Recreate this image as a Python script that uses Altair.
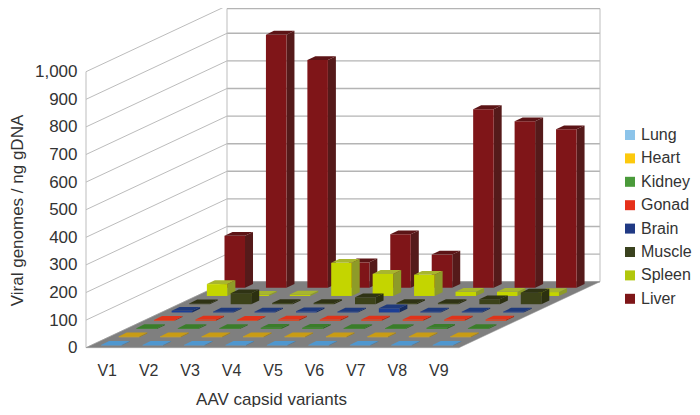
import altair as alt
import pandas as pd

variants = ["V1", "V2", "V3", "V4", "V5", "V6", "V7", "V8", "V9"]
organs = ["Lung", "Heart", "Kidney", "Gonad", "Brain", "Muscle", "Spleen", "Liver"]

lung = [2, 2, 2, 2, 2, 2, 2, 2, 2]
heart = [3, 3, 3, 3, 3, 3, 3, 3, 3]
kidney = [3, 3, 3, 4, 4, 3, 3, 4, 3]
gonad = [3, 4, 3, 4, 4, 4, 4, 4, 4]
brain = [6, 3, 3, 4, 3, 15, 3, 3, 3]
muscle = [3, 40, 4, 4, 25, 4, 4, 18, 42]
spleen = [43, 4, 5, 120, 80, 77, 15, 15, 14]
liver = [188, 917, 825, 92, 194, 120, 647, 603, 574]
series = [lung, heart, kidney, gonad, brain, muscle, spleen, liver]

ticks = [0, 100, 200, 300, 400, 500, 600, 700, 800, 900, 1000]

legend_cols = ["#8cc4ea", "#fcc90e", "#4a9a3a", "#e6301a", "#203a84", "#3a421e", "#b2c70c", "#7e1618"]
front_cols = ["#5aa0d8", "#e8b010", "#3f8a30", "#f03c10", "#1c3e96", "#3c4219", "#c4d500", "#7f1518"]
side_cols = ["#3f7aa8", "#a88310", "#2f6a22", "#b02a10", "#162c60", "#2c3010", "#8e9b28", "#551a1a"]
top_cols = ["#4f97cf", "#c99c14", "#3a7d2a", "#e0341a", "#1f3a7c", "#2f3314", "#a8b62e", "#5c1416"]

# oblique projection, in data units
PX_X = 373 / 9        # px per category
PX_Y = 0.276          # px per value unit
ROW_X = 141 / 8 / PX_X   # x shift of one organ row
ROW_Y = 66 / 8 / PX_Y    # y shift of one organ row
BAR_W = 0.495
BAR_DX = 8 / PX_X
BAR_DY = 3.8 / PX_Y
X_DOM = [(8 - 86) / PX_X + 0.5, (692 - 86) / PX_X + 0.5]
Y_DOM = [(347.7 - 407) / PX_Y, (347.7 - 8) / PX_Y]
DEPTH_X = 8 * ROW_X
DEPTH_Y = 8 * ROW_Y

rows = []
for d in range(7, -1, -1):
    for i in range(9):
        v = series[d][i]
        x0 = i + 1 - 0.25 + (d + 0.27) * ROW_X
        x1 = x0 + BAR_W
        b = (d + 0.27) * ROW_Y
        t = b + v
        o = organs[d]
        fid = f"{d}-{i}"
        for x, y, y2 in [(x1, t, b), (x1 + BAR_DX, t + BAR_DY, b + BAR_DY)]:
            rows.append(dict(face=fid + "s", x=x, y=y, y2=y2, key=o + "|side"))
        for x, y, y2 in [(x0, t, b), (x1, t, b)]:
            rows.append(dict(face=fid + "f", x=x, y=y, y2=y2, key=o + "|front"))
        for x, y, y2 in [(x0, t, t), (x0 + BAR_DX, t + BAR_DY, t), (x1, t + BAR_DY, t), (x1 + BAR_DX, t + BAR_DY, t + BAR_DY)]:
            rows.append(dict(face=fid + "t", x=x, y=y, y2=y2, key=o + "|top"))
faces = pd.DataFrame(rows)

floor = pd.DataFrame([
    dict(x=0.5, y=0, y2=0),
    dict(x=0.5 + DEPTH_X, y=DEPTH_Y, y2=0),
    dict(x=9.5, y=DEPTH_Y, y2=0),
    dict(x=9.5 + DEPTH_X, y=DEPTH_Y, y2=DEPTH_Y),
])

TOP = Y_DOM[1] - 2
slants = pd.DataFrame([dict(x=0.5, y=v, x2=0.5 + DEPTH_X, y2=v + DEPTH_Y) for v in ticks])
backs = pd.DataFrame([dict(x=0.5 + DEPTH_X, y=min(v + DEPTH_Y, TOP), x2=9.5 + DEPTH_X, y2=min(v + DEPTH_Y, TOP)) for v in ticks])
verts = pd.DataFrame([
    dict(x=0.5, y=0, x2=0.5, y2=1000),
    dict(x=0.5 + DEPTH_X, y=DEPTH_Y, x2=0.5 + DEPTH_X, y2=TOP),
    dict(x=9.5 + DEPTH_X, y=DEPTH_Y, x2=9.5 + DEPTH_X, y2=TOP),
])

domain = organs + [o + "|front" for o in organs] + [o + "|side" for o in organs] + [o + "|top" for o in organs]
color_range = legend_cols + front_cols + side_cols + top_cols

FONT = "Liberation Sans"
TXT = "#333333"
xs = alt.Scale(domain=X_DOM, nice=False, zero=False)
ys = alt.Scale(domain=Y_DOM, nice=False, zero=False)

x_axis = alt.Axis(
    values=list(range(1, 10)),
    labelExpr="'V' + datum.value",
    title="AAV capsid variants",
    offset=-49, domain=False, ticks=False, grid=False, labelPadding=4.5,
    labelFontSize=16, labelFont=FONT, labelColor=TXT,
    titleFontSize=17, titleFont=FONT, titleColor=TXT, titleFontWeight="normal",
    titleX=263, titleY=41, titleBaseline="middle", titleAlign="center",
)
y_axis = alt.Axis(
    values=ticks, format=",.0f",
    title="Viral genomes / ng gDNA",
    offset=-72, domain=False, ticks=False, grid=False, labelPadding=3,
    labelFontSize=17, labelFont=FONT, labelColor=TXT,
    titleFontSize=17, titleFont=FONT, titleColor=TXT, titleFontWeight="normal",
    titleX=-63, titleY=202, titleBaseline="middle", titleAlign="center", titleAngle=-90,
)


def rule(df, color, width):
    return alt.Chart(df).mark_rule(color=color, strokeWidth=width).encode(
        x=alt.X("x:Q", scale=xs, axis=x_axis),
        x2="x2:Q",
        y=alt.Y("y:Q", scale=ys, axis=y_axis),
        y2="y2:Q",
    )


floor_layer = alt.Chart(floor).mark_area(color="#7f7f7f", stroke="#9a9a9a", strokeWidth=0.5).encode(
    x=alt.X("x:Q", scale=xs, axis=x_axis),
    y=alt.Y("y:Q", scale=ys, axis=y_axis),
    y2="y2:Q",
)

bars = alt.Chart(faces).mark_area(interpolate="linear").encode(
    x=alt.X("x:Q", scale=xs, axis=x_axis),
    y=alt.Y("y:Q", scale=ys, axis=y_axis),
    y2="y2:Q",
    detail="face:N",
    color=alt.Color(
        "key:N",
        scale=alt.Scale(domain=domain, range=color_range),
        legend=alt.Legend(
            values=organs, title=None, orient="none", legendX=614, legendY=119,
            symbolType="square", symbolSize=100, symbolStrokeWidth=0,
            labelFontSize=16, labelFont=FONT, labelColor=TXT, labelOffset=3,
            rowPadding=7.4, padding=0,
        ),
    ),
)

chart = alt.layer(
    rule(slants, "#bcbcbc", 1),
    rule(backs, "#b4b4b4", 1.4),
    rule(verts, "#bdbdbd", 1),
    floor_layer,
    bars,
).properties(
    width=684, height=399, padding=0,
    autosize=alt.AutoSizeParams(type="none"),
).configure_view(stroke=None)

chart.save("out.html", embed_options={"renderer": "svg", "actions": False})
